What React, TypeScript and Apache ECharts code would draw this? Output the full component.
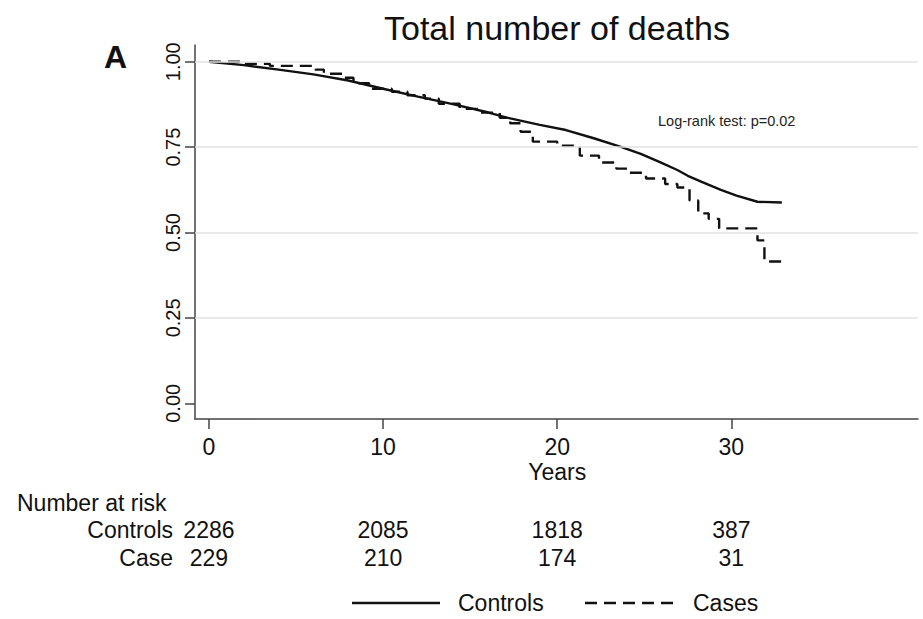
import React, { useEffect, useRef } from "react";
import * as echarts from "echarts";

// Kaplan-Meier survival estimates (time in years, survival probability)
const controlsTime = [0, 2, 4, 6, 8, 10, 12, 14, 16, 17.3, 19, 20.5, 22.1, 23.7, 24.8, 25.9, 26.9, 27.5, 28.3, 29.4, 30.3, 31.5, 32.9];
const controlsSurv = [1.0, 0.99, 0.977, 0.963, 0.945, 0.921, 0.898, 0.876, 0.852, 0.834, 0.815, 0.8, 0.776, 0.75, 0.73, 0.706, 0.683, 0.666, 0.648, 0.625, 0.608, 0.59, 0.588];

const casesTime = [0, 1.8, 3.5, 6.1, 6.6, 7.7, 8.3, 9.2, 10.5, 11.4, 12.4, 13.2, 14.4, 15.6, 16.7, 17.3, 17.9, 18.6, 20.0, 21.3, 22.4, 23.4, 24.1, 25.1, 26.2, 26.9, 27.6, 28.1, 28.7, 29.3, 31.5, 31.9, 32.9];
const casesSurv = [1.0, 0.994, 0.988, 0.977, 0.965, 0.953, 0.937, 0.921, 0.912, 0.902, 0.892, 0.877, 0.862, 0.851, 0.836, 0.82, 0.795, 0.766, 0.754, 0.725, 0.705, 0.687, 0.675, 0.658, 0.642, 0.632, 0.594, 0.556, 0.54, 0.512, 0.477, 0.415, 0.415];

// Axis ticks
const xTicks = [0, 10, 20, 30];
const yTicks = [0, 0.25, 0.5, 0.75, 1.0];

// Number at risk table
const riskYears = [0, 10, 20, 30];
const controlsAtRisk = [2286, 2085, 1818, 387];
const casesAtRisk = [229, 210, 174, 31];

const FONT = "Liberation Sans";
const INK = "#111";
const CURVE_WIDTH = 2.4;
const DASH = [12, 7];

export default function App() {
  const ref = useRef<HTMLDivElement>(null);

  useEffect(() => {
    if (!ref.current) return;
    const chart = echarts.init(ref.current, null, { renderer: "svg" });

    const zip = (t: number[], s: number[]) => t.map((x, i) => [x, s[i]]);

    chart.setOption({
      animation: false,
      textStyle: { fontFamily: FONT, color: INK },
      title: {
        text: "Total number of deaths",
        left: 379,
        top: 6,
        textStyle: { fontSize: 34, fontWeight: "normal", color: INK, fontFamily: FONT },
      },
      grid: { left: 195, right: 5, top: 45, bottom: 200 },
      xAxis: {
        type: "value",
        min: -0.8,
        max: 40.72,
        axisLine: { show: true, onZero: false, lineStyle: { color: "#444", width: 1.5 } },
        axisTick: { show: true, length: 10, customValues: xTicks, lineStyle: { color: "#444", width: 1.5 } },
        axisLabel: { customValues: xTicks, fontSize: 23, color: INK, margin: 16, fontFamily: FONT },
        splitLine: { show: false },
      },
      yAxis: {
        type: "value",
        min: -0.046,
        max: 1.049,
        axisLine: { show: true, onZero: false, lineStyle: { color: "#444", width: 1.5 } },
        axisTick: { show: true, length: 10, customValues: yTicks, lineStyle: { color: "#444", width: 1.5 } },
        axisLabel: {
          customValues: yTicks,
          rotate: 90,
          fontSize: 20,
          color: INK,
          margin: 12,
          fontFamily: FONT,
          formatter: (v: number) => v.toFixed(2),
        },
        splitLine: { show: false },
      },
      series: [
        {
          name: "gridlines",
          type: "line",
          data: [],
          z: 1,
          silent: true,
          markLine: {
            silent: true,
            symbol: "none",
            label: { show: false },
            lineStyle: { color: "#e2e2e2", type: "solid", width: 1.5 },
            data: [0.25, 0.5, 0.75, 1.0].map((v) => ({ yAxis: v })),
          },
        },
        {
          name: "Controls",
          type: "line",
          z: 3,
          data: zip(controlsTime, controlsSurv),
          showSymbol: false,
          symbol: "none",
          lineStyle: { color: INK, width: CURVE_WIDTH, type: "solid" },
        },
        {
          name: "Cases",
          type: "line",
          z: 3,
          step: "end",
          data: zip(casesTime, casesSurv),
          showSymbol: false,
          symbol: "none",
          lineStyle: { color: INK, width: CURVE_WIDTH, type: DASH },
        },
      ],
    });

    const px = (t: number) => chart.convertToPixel({ xAxisIndex: 0 }, t) as number;
    const txt = (x: number, y: number, text: string, align: string, size = 23, extra: any = {}) => ({
      type: "text",
      x,
      y,
      silent: true,
      style: {
        text,
        fontSize: size,
        fontFamily: FONT,
        fill: INK,
        textAlign: align,
        textVerticalAlign: "middle",
        ...extra,
      },
    });
    const legendLine = (x1: number, x2: number, dash: number[] | null) => ({
      type: "line",
      silent: true,
      shape: { x1, y1: 603, x2, y2: 603 },
      style: { stroke: INK, lineWidth: CURVE_WIDTH, lineDash: dash || undefined },
    });

    const graphics: any[] = [
      txt(104, 57, "A", "left", 32, { fontWeight: "bold" }),
      txt(658, 121, "Log-rank test: p=0.02", "left", 14.5, { fill: "#222" }),
      txt(px(20), 472, "Years", "center"),
      txt(17, 503, "Number at risk", "left"),
      txt(173, 530, "Controls", "right"),
      txt(173, 558, "Case", "right"),
      // key
      legendLine(352, 440, null),
      txt(458, 603, "Controls", "left"),
      legendLine(585, 678, DASH),
      txt(693, 603, "Cases", "left"),
    ];
    riskYears.forEach((t, i) => {
      graphics.push(txt(px(t), 530, String(controlsAtRisk[i]), "center"));
      graphics.push(txt(px(t), 558, String(casesAtRisk[i]), "center"));
    });
    chart.setOption({ graphic: graphics });

    return () => chart.dispose();
  }, []);

  return (
    <div
      ref={ref}
      style={{ position: "fixed", left: 0, top: 0, width: 923, height: 619, background: "#fff" }}
    />
  );
}
